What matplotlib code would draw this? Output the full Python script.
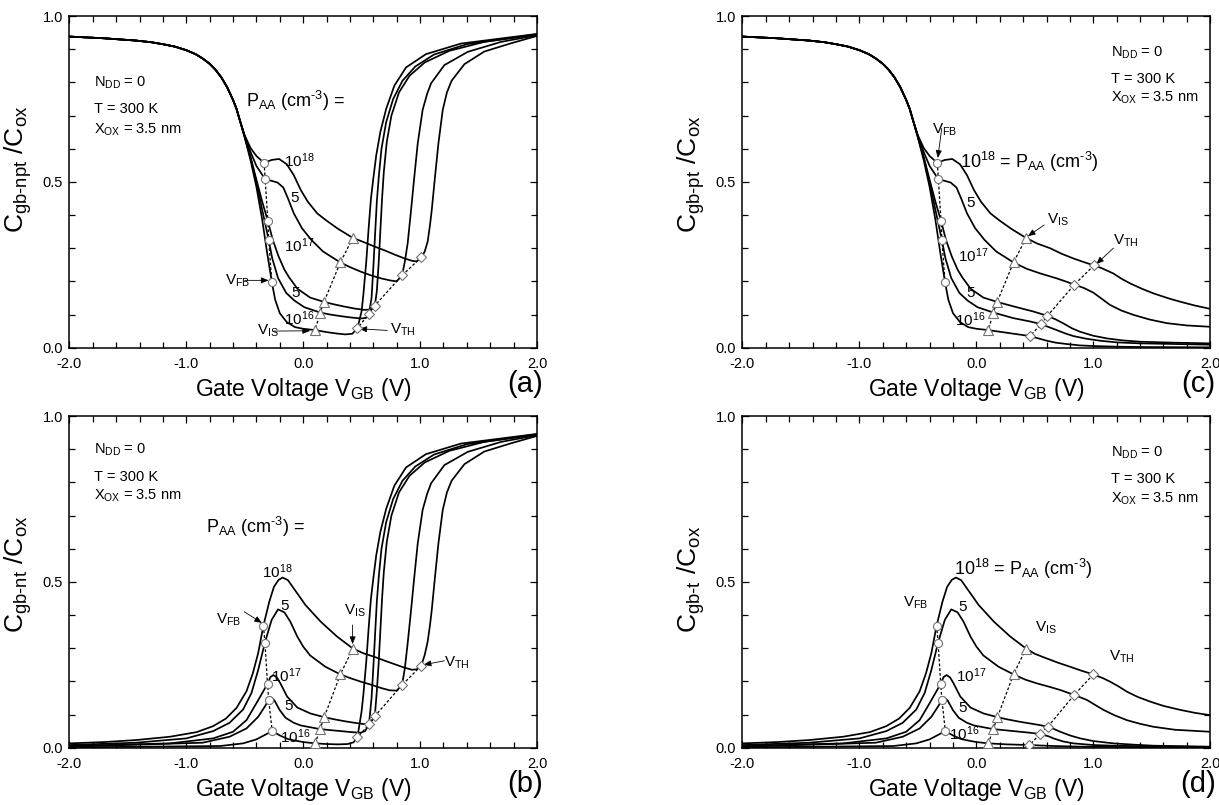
# Gate-to-body capacitance components vs gate voltage, four panels (a)-(d)
import matplotlib
matplotlib.use("Agg")
import matplotlib.pyplot as plt
from matplotlib.ticker import MultipleLocator, FormatStrFormatter

plt.rcParams["font.family"] = ["Liberation Sans", "DejaVu Sans"]
plt.rcParams["mathtext.fontset"] = "custom"
plt.rcParams["mathtext.rm"] = "Liberation Sans"
plt.rcParams["mathtext.it"] = "Liberation Sans:italic"
plt.rcParams["mathtext.bf"] = "Liberation Sans:bold"

dopings = ["1e18", "5e17", "1e17", "5e16", "1e16"]

# common accumulation part of panels (a) and (c)
left_v = [-2.0, -1.71, -1.43, -1.3, -1.2, -1.1, -1.0, -0.92, -0.86, -0.8, -0.75, -0.7, -0.65, -0.6, -0.57, -0.542]
left_c = [0.938, 0.933, 0.926, 0.921, 0.915, 0.908, 0.897, 0.885, 0.872, 0.856, 0.838, 0.815, 0.785, 0.747, 0.72, 0.686]

# panels (a)/(c): from the split down to V_IS
a_v = {
    "1e18": [-0.50, -0.45, -0.40, -0.334, -0.27, -0.206, -0.14, -0.08, -0.02, 0.04, 0.12, 0.2, 0.3, 0.425],
    "5e17": [-0.50, -0.45, -0.40, -0.325, -0.27, -0.22, -0.17, -0.13, -0.08, -0.01, 0.07, 0.17, 0.318],
    "1e17": [-0.50, -0.45, -0.41, -0.35, -0.302, -0.26, -0.21, -0.16, -0.12, -0.05, 0.06, 0.178],
    "5e16": [-0.50, -0.45, -0.40, -0.35, -0.295, -0.265, -0.215, -0.145, -0.075, 0.01, 0.145],
    "1e16": [-0.50, -0.45, -0.40, -0.35, -0.31, -0.268, -0.24, -0.2, -0.14, -0.07, 0.0, 0.103],
}
a_c = {
    "1e18": [0.640, 0.602, 0.578, 0.557, 0.566, 0.569, 0.553, 0.52, 0.475, 0.44, 0.405, 0.383, 0.358, 0.331],
    "5e17": [0.638, 0.59, 0.548, 0.508, 0.503, 0.498, 0.483, 0.45, 0.405, 0.36, 0.325, 0.29, 0.257],
    "1e17": [0.636, 0.575, 0.52, 0.44, 0.382, 0.325, 0.275, 0.235, 0.212, 0.178, 0.151, 0.138],
    "5e16": [0.635, 0.572, 0.5, 0.415, 0.325, 0.27, 0.21, 0.165, 0.142, 0.122, 0.106],
    "1e16": [0.634, 0.565, 0.485, 0.385, 0.29, 0.198, 0.145, 0.104, 0.077, 0.062, 0.057, 0.053],
}

# panels (b)/(d): from -2 V up to V_IS
b_v = {
    "1e18": [-2.0, -1.7, -1.43, -1.14, -0.91, -0.77, -0.66, -0.57, -0.485, -0.43, -0.385, -0.34, -0.29, -0.25, -0.21, -0.175, -0.13, -0.08, 0.02, 0.15, 0.29, 0.425],
    "5e17": [-2.0, -1.43, -1.0, -0.77, -0.63, -0.514, -0.442, -0.385, -0.327, -0.27, -0.215, -0.16, -0.11, -0.05, 0.0, 0.06, 0.19, 0.318],
    "1e17": [-2.0, -1.14, -0.77, -0.6, -0.485, -0.4, -0.343, -0.305, -0.28, -0.255, -0.225, -0.195, -0.137, -0.05, 0.063, 0.18],
    "5e16": [-2.0, -0.86, -0.63, -0.485, -0.385, -0.328, -0.295, -0.272, -0.245, -0.2, -0.15, -0.08, -0.02, 0.145],
    "1e16": [-2.0, -0.71, -0.514, -0.4, -0.314, -0.265, -0.2, -0.13, -0.077, 0.0, 0.103],
}
b_c = {
    "1e18": [0.013, 0.017, 0.023, 0.033, 0.047, 0.065, 0.088, 0.12, 0.17, 0.225, 0.285, 0.368, 0.44, 0.485, 0.506, 0.513, 0.505, 0.48, 0.43, 0.38, 0.335, 0.299],
    "5e17": [0.008, 0.015, 0.028, 0.05, 0.075, 0.115, 0.165, 0.234, 0.317, 0.385, 0.417, 0.408, 0.38, 0.335, 0.305, 0.278, 0.244, 0.221],
    "1e17": [0.005, 0.013, 0.028, 0.048, 0.083, 0.134, 0.169, 0.193, 0.213, 0.219, 0.212, 0.194, 0.154, 0.121, 0.103, 0.092],
    "5e16": [0.003, 0.015, 0.033, 0.058, 0.093, 0.124, 0.144, 0.151, 0.142, 0.113, 0.09, 0.075, 0.067, 0.056],
    "1e16": [0.001, 0.005, 0.013, 0.025, 0.041, 0.05, 0.037, 0.026, 0.022, 0.017, 0.013],
}

# panel (a): V_IS -> V_TH
am_v = {
    "1e18": [0.52, 0.61, 0.7, 0.78, 0.86, 0.93, 0.97, 1.012, 1.04],
    "5e17": [0.4, 0.494, 0.58, 0.666, 0.74, 0.8, 0.846, 0.87],
    "1e17": [0.26, 0.351, 0.44, 0.523, 0.58, 0.613],
    "5e16": [0.23, 0.323, 0.41, 0.494, 0.54, 0.563],
    "1e16": [0.2, 0.28, 0.36, 0.42, 0.464],
}
am_c = {
    "1e18": [0.318, 0.305, 0.293, 0.281, 0.27, 0.262, 0.26, 0.273, 0.29],
    "5e17": [0.243, 0.229, 0.218, 0.209, 0.203, 0.2, 0.218, 0.26],
    "1e17": [0.131, 0.124, 0.118, 0.114, 0.115, 0.127],
    "5e16": [0.1, 0.095, 0.091, 0.088, 0.09, 0.103],
    "1e16": [0.047, 0.043, 0.040, 0.042, 0.058],
}

# panel (b): V_IS -> V_TH
bm_v = {
    "1e18": [0.52, 0.609, 0.7, 0.78, 0.86, 0.93, 0.97, 1.01, 1.04],
    "5e17": [0.4, 0.494, 0.58, 0.666, 0.74, 0.8, 0.846, 0.87],
    "1e17": [0.26, 0.351, 0.44, 0.523, 0.575, 0.613],
    "5e16": [0.23, 0.323, 0.41, 0.49, 0.53, 0.563],
    "1e16": [0.2, 0.3, 0.38, 0.43, 0.464],
}
bm_c = {
    "1e18": [0.284, 0.274, 0.262, 0.252, 0.242, 0.235, 0.236, 0.247, 0.28],
    "5e17": [0.21, 0.199, 0.19, 0.18, 0.173, 0.172, 0.189, 0.24],
    "1e17": [0.086, 0.08, 0.075, 0.071, 0.075, 0.095],
    "5e16": [0.053, 0.05, 0.047, 0.045, 0.05, 0.07],
    "1e16": [0.011, 0.01, 0.011, 0.016, 0.031],
}

# inversion rise, same in (a) and (b)
rise_v = {
    "1e18": [1.065, 1.085, 1.1, 1.128, 1.157, 1.194, 1.23, 1.27, 1.38, 1.55, 1.78, 2.0],
    "5e17": [0.894, 0.923, 0.951, 0.98, 1.022, 1.06, 1.094, 1.208, 1.408, 1.693, 2.0],
    "1e17": [0.63, 0.645, 0.66, 0.675, 0.69, 0.715, 0.755, 0.82, 0.91, 1.04, 1.25, 1.55, 2.0],
    "5e16": [0.585, 0.6, 0.615, 0.63, 0.648, 0.67, 0.71, 0.77, 0.85, 0.96, 1.12, 1.4, 2.0],
    "1e16": [0.50, 0.515, 0.54, 0.56, 0.58, 0.6, 0.625, 0.66, 0.71, 0.78, 0.88, 1.05, 1.35, 2.0],
}
rise_c = {
    "1e18": [0.32, 0.37, 0.415, 0.516, 0.616, 0.717, 0.77, 0.805, 0.855, 0.893, 0.918, 0.94],
    "5e17": [0.315, 0.415, 0.516, 0.616, 0.717, 0.765, 0.797, 0.852, 0.892, 0.922, 0.942],
    "1e17": [0.17, 0.25, 0.35, 0.45, 0.53, 0.62, 0.70, 0.77, 0.82, 0.86, 0.895, 0.922, 0.944],
    "5e16": [0.15, 0.24, 0.34, 0.44, 0.52, 0.6, 0.68, 0.75, 0.805, 0.848, 0.884, 0.915, 0.945],
    "1e16": [0.11, 0.16, 0.26, 0.36, 0.45, 0.51, 0.58, 0.65, 0.72, 0.79, 0.845, 0.885, 0.917, 0.946],
}

# panel (c): tail after V_IS
ct_v = {
    "1e18": [0.52, 0.63, 0.73, 0.83, 0.92, 1.005, 1.07, 1.17, 1.25, 1.32, 1.42, 1.52, 1.65, 1.75, 1.87, 2.0],
    "5e17": [0.43, 0.545, 0.687, 0.77, 0.838, 0.92, 1.0, 1.07, 1.143, 1.24, 1.343, 1.48, 1.628, 1.8, 2.0],
    "1e17": [0.26, 0.345, 0.488, 0.608, 0.68, 0.745, 0.82, 0.887, 1.0, 1.115, 1.25, 1.4, 1.7, 2.0],
    "5e16": [0.317, 0.46, 0.553, 0.62, 0.687, 0.76, 0.83, 0.94, 1.058, 1.2, 1.4, 2.0],
    "1e16": [0.26, 0.38, 0.459, 0.53, 0.602, 0.68, 0.773, 0.88, 1.0, 1.2, 1.4, 2.0],
}
ct_c = {
    "1e18": [0.314, 0.30, 0.283, 0.269, 0.258, 0.248, 0.240, 0.224, 0.206, 0.193, 0.177, 0.163, 0.148, 0.138, 0.127, 0.117],
    "5e17": [0.238, 0.224, 0.209, 0.199, 0.19, 0.18, 0.166, 0.148, 0.129, 0.112, 0.099, 0.085, 0.074, 0.067, 0.063],
    "1e17": [0.13, 0.122, 0.109, 0.096, 0.085, 0.073, 0.058, 0.048, 0.036, 0.028, 0.022, 0.018, 0.015, 0.013],
    "5e16": [0.089, 0.079, 0.071, 0.062, 0.053, 0.043, 0.035, 0.027, 0.021, 0.016, 0.013, 0.009],
    "1e16": [0.045, 0.039, 0.035, 0.028, 0.021, 0.015, 0.011, 0.007, 0.005, 0.003, 0.002, 0.001],
}

# panel (d): tail after V_IS
dt_v = {
    "1e18": [0.5, 0.602, 0.7, 0.802, 0.9, 1.0, 1.08, 1.144, 1.22, 1.287, 1.38, 1.486, 1.6, 1.743, 1.87, 2.0],
    "5e17": [0.42, 0.517, 0.62, 0.717, 0.837, 0.945, 1.02, 1.087, 1.18, 1.287, 1.4, 1.515, 1.7, 2.0],
    "1e17": [0.27, 0.374, 0.46, 0.545, 0.611, 0.66, 0.717, 0.8, 0.888, 1.0, 1.173, 1.35, 1.515, 2.0],
    "5e16": [0.26, 0.374, 0.46, 0.545, 0.62, 0.659, 0.74, 0.83, 1.0, 1.173, 1.5, 2.0],
    "1e16": [0.26, 0.454, 0.659, 0.9, 1.23, 2.0],
}
dt_c = {
    "1e18": [0.283, 0.269, 0.256, 0.244, 0.232, 0.221, 0.21, 0.199, 0.184, 0.169, 0.153, 0.139, 0.126, 0.114, 0.105, 0.098],
    "5e17": [0.205, 0.194, 0.184, 0.174, 0.159, 0.144, 0.128, 0.114, 0.098, 0.083, 0.072, 0.063, 0.054, 0.048],
    "1e17": [0.085, 0.078, 0.073, 0.068, 0.063, 0.057, 0.048, 0.037, 0.028, 0.02, 0.013, 0.009, 0.006, 0.003],
    "5e16": [0.052, 0.048, 0.045, 0.041, 0.034, 0.028, 0.019, 0.013, 0.008, 0.006, 0.004, 0.002],
    "1e16": [0.010, 0.008, 0.005, 0.003, 0.002, 0.001],
}

# V_FB (circles), V_IS (triangles), V_TH (diamonds), order 1e18 ... 1e16
fb_ac_v = [-0.334, -0.325, -0.302, -0.295, -0.268]
fb_ac_c = [0.557, 0.508, 0.382, 0.325, 0.198]
fb_bd_v = [-0.34, -0.327, -0.305, -0.295, -0.265]
fb_bd_c = [0.368, 0.317, 0.193, 0.144, 0.05]
is_ac_v = [0.425, 0.318, 0.178, 0.145, 0.103]
is_ac_c = [0.331, 0.257, 0.138, 0.106, 0.053]
is_bd_v = [0.425, 0.318, 0.18, 0.145, 0.103]
is_bd_c = [0.299, 0.221, 0.092, 0.056, 0.013]
th_a_v = [1.012, 0.846, 0.613, 0.563, 0.464]
th_a_c = [0.273, 0.218, 0.127, 0.103, 0.058]
th_b_v = [1.01, 0.846, 0.613, 0.563, 0.464]
th_b_c = [0.247, 0.189, 0.095, 0.07, 0.031]
th_c_v = [1.005, 0.838, 0.608, 0.553, 0.459]
th_c_c = [0.248, 0.19, 0.096, 0.071, 0.035]
th_d_v = [1.0, 0.837, 0.611, 0.545, 0.454]
th_d_c = [0.221, 0.159, 0.063, 0.041, 0.008]

ylabels = {
    "a": r"C$_{\mathrm{gb\text{-}npt}}$ /C$_{\mathrm{ox}}$",
    "b": r"C$_{\mathrm{gb\text{-}nt}}$ /C$_{\mathrm{ox}}$",
    "c": r"C$_{\mathrm{gb\text{-}pt}}$ /C$_{\mathrm{ox}}$",
    "d": r"C$_{\mathrm{gb\text{-}t}}$ /C$_{\mathrm{ox}}$",
}

NDD = r"N$_{\mathrm{DD}}$ = 0"
TEMP = "T = 300 K"
XOX = r"X$_{\mathrm{OX}}$ = 3.5 nm"
PAA = r"P$_{\mathrm{AA}}$ (cm$^{\text{-}\mathrm{3}}$) ="
PAA2 = r"10$^{\mathrm{18}}$ = P$_{\mathrm{AA}}$ (cm$^{\text{-}\mathrm{3}}$)"
E18 = r"10$^{\mathrm{18}}$"
E17 = r"10$^{\mathrm{17}}$"
E16 = r"10$^{\mathrm{16}}$"
VFB = r"V$_{\mathrm{FB}}$"
VIS = r"V$_{\mathrm{IS}}$"
VTH = r"V$_{\mathrm{TH}}$"

# text (string, V, C at baseline, size)
texts = {
    "a": [(NDD, -1.79, 0.786, 10.5), (TEMP, -1.79, 0.707, 10.5), (XOX, -1.79, 0.646, 10.5),
          (PAA, -0.493, 0.727, 13), (E18, -0.167, 0.546, 11), ("5", -0.11, 0.44, 11),
          (E17, -0.167, 0.289, 11), ("5", -0.10, 0.154, 11), (E16, -0.167, 0.068, 11),
          (VFB, -0.667, 0.189, 11), (VIS, -0.393, 0.038, 11), (VTH, 0.74, 0.043, 11)],
    "b": [(NDD, -1.79, 0.887, 10.5), (TEMP, -1.79, 0.804, 10.5), (XOX, -1.79, 0.747, 10.5),
          (PAA, -0.827, 0.646, 13), (E18, -0.353, 0.511, 11), ("5", -0.193, 0.415, 11),
          (E17, -0.277, 0.199, 11), ("5", -0.16, 0.114, 11), (E16, -0.2, 0.013, 11),
          (VFB, -0.743, 0.375, 11), (VIS, 0.347, 0.40, 11), (VTH, 1.207, 0.244, 11)],
    "c": [(NDD, 1.15, 0.877, 10.5), (TEMP, 1.15, 0.799, 10.5), (XOX, 1.15, 0.742, 10.5),
          (PAA2, -0.14, 0.541, 13), ("5", -0.083, 0.425, 11),
          (E17, -0.157, 0.259, 11), ("5", -0.083, 0.152, 11), (E16, -0.183, 0.065, 11),
          (VFB, -0.38, 0.646, 11), (VIS, 0.6, 0.375, 11), (VTH, 1.167, 0.31, 11)],
    "d": [(NDD, 1.15, 0.877, 10.5), (TEMP, 1.15, 0.797, 10.5), (XOX, 1.15, 0.739, 10.5),
          (PAA2, -0.193, 0.521, 13), ("5", -0.157, 0.412, 11),
          (E17, -0.173, 0.199, 11), ("5", -0.157, 0.109, 11), (E16, -0.233, 0.023, 11),
          (VFB, -0.627, 0.425, 11), (VIS, 0.5, 0.35, 11), (VTH, 1.133, 0.264, 11)],
}

# arrows: (tail V, tail C, head V, head C)
arrows = {
    "a": [(-0.50, 0.203, -0.295, 0.203), (-0.25, 0.05, 0.06, 0.051), (0.72, 0.052, 0.48, 0.057)],
    "b": [(-0.505, 0.41, -0.352, 0.376), (0.423, 0.37, 0.423, 0.312), (1.208, 0.262, 1.03, 0.25)],
    "c": [(-0.296, 0.661, -0.33, 0.572), (0.58, 0.37, 0.44, 0.336), (1.172, 0.30, 1.025, 0.252)],
    "d": [],
}

boxes = {
    "a": [0.0569, 0.5681, 0.3836, 0.4120],
    "c": [0.6091, 0.5681, 0.3837, 0.4120],
    "b": [0.0569, 0.0712, 0.3836, 0.4120],
    "d": [0.6091, 0.0712, 0.3837, 0.4120],
}

fig = plt.figure(figsize=(12.19, 8.05), dpi=100)


def markers(ax, v, c, m, ms):
    ax.plot(v, c, color="k", lw=0.9, ls=(0, (2.2, 1.6)), zorder=3)
    ax.plot(v, c, ls="none", marker=m, ms=ms, mfc="white", mec="0.45", mew=0.8, zorder=4)


for p in ["a", "b", "c", "d"]:
    ax = fig.add_axes(boxes[p])
    for d in dopings:
        if p == "a":
            v = left_v + a_v[d] + am_v[d] + rise_v[d]
            c = left_c + a_c[d] + am_c[d] + rise_c[d]
        elif p == "b":
            v = b_v[d] + bm_v[d] + rise_v[d]
            c = b_c[d] + bm_c[d] + rise_c[d]
        elif p == "c":
            v = left_v + a_v[d] + ct_v[d]
            c = left_c + a_c[d] + ct_c[d]
        else:
            v = b_v[d] + dt_v[d]
            c = b_c[d] + dt_c[d]
        ax.plot(v, c, color="k", lw=1.25, zorder=2)

    if p in ("a", "c"):
        markers(ax, fb_ac_v, fb_ac_c, "o", 5.8)
        markers(ax, is_ac_v, is_ac_c, "^", 6.8)
    else:
        markers(ax, fb_bd_v, fb_bd_c, "o", 5.8)
        markers(ax, is_bd_v, is_bd_c, "^", 6.8)
    th = {"a": (th_a_v, th_a_c), "b": (th_b_v, th_b_c), "c": (th_c_v, th_c_c), "d": (th_d_v, th_d_c)}[p]
    markers(ax, th[0], th[1], "D", 5)

    for s, x, y, fs in texts[p]:
        ax.text(x, y, s, fontsize=fs, ha="left", va="baseline", zorder=5)
    for x0, y0, x1, y1 in arrows[p]:
        ax.annotate("", xy=(x1, y1), xytext=(x0, y0),
                    arrowprops=dict(arrowstyle="-|>,head_length=0.45,head_width=0.18",
                                    color="k", lw=0.6, shrinkA=0, shrinkB=0))

    ax.set_xlim(-2, 2)
    ax.set_ylim(0, 1)
    ax.xaxis.set_major_locator(MultipleLocator(1.0))
    ax.xaxis.set_minor_locator(MultipleLocator(0.2))
    ax.yaxis.set_major_locator(MultipleLocator(0.5))
    ax.yaxis.set_minor_locator(MultipleLocator(0.1))
    ax.xaxis.set_major_formatter(FormatStrFormatter("%.1f"))
    ax.yaxis.set_major_formatter(FormatStrFormatter("%.1f"))
    ax.tick_params(which="both", direction="in", top=True, right=True, width=0.9)
    ax.tick_params(which="major", length=5, labelsize=10.5)
    ax.tick_params(which="minor", length=4)
    ax.tick_params(axis="x", pad=6.5)
    ax.tick_params(axis="y", pad=4.5)
    for sp in ax.spines.values():
        sp.set_linewidth(1.1)

    ax.set_xlabel(r"Gate Voltage V$_{\mathrm{GB}}$ (V)", fontsize=16.5, labelpad=4)
    ax.set_ylabel(ylabels[p], fontsize=19, ha="left")
    ax.yaxis.set_label_coords(-0.075, 0.346)
    ax.text(0.974, -0.11, "(" + p + ")", transform=ax.transAxes, fontsize=21,
            ha="center", va="center")

fig.savefig("out.png", dpi=100)
